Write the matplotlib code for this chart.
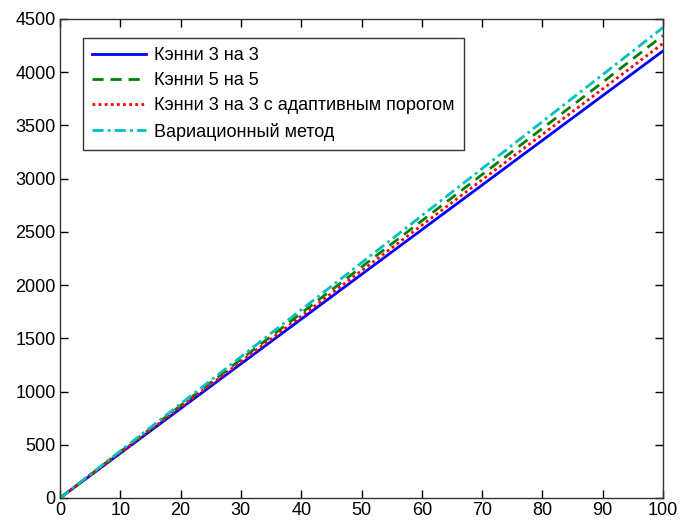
import matplotlib
matplotlib.use("Agg")
import matplotlib.pyplot as plt

# ── data ──────────────────────────────────────────────────────────────────────
x_vals = [0, 10, 20, 30, 40, 50, 60, 70, 80, 90, 100]
canny3 = [0, 420, 840, 1260, 1680, 2100, 2520, 2940, 3360, 3780, 4200]
canny5 = [0, 434, 868, 1302, 1736, 2170, 2604, 3038, 3472, 3906, 4345]
canny3_adapt = [0, 427, 854, 1281, 1708, 2135, 2562, 2989, 3416, 3843, 4270]
variational = [0, 442, 884, 1326, 1768, 2210, 2652, 3094, 3536, 3978, 4420]

labels = ["Кэнни 3 на 3", "Кэнни 5 на 5",
          "Кэнни 3 на 3 с адаптивным порогом", "Вариационный метод"]
x_ticks = list(range(0, 101, 10))
y_ticks = list(range(0, 4501, 500))

plt.rcParams["font.family"] = ["Liberation Sans", "DejaVu Sans"]

fig = plt.figure(figsize=(6.8, 5.24), dpi=100)
ax = fig.add_axes([60 / 680, 26 / 524, 603 / 680, 479 / 524])

ax.plot(x_vals, canny3, color="#0000FF", lw=2.0, ls="-", label=labels[0])
ax.plot(x_vals, canny5, color="#008000", lw=2.0, ls=(0, (4, 2.5)), label=labels[1])
ax.plot(x_vals, canny3_adapt, color="#FF0000", lw=2.0, ls=(0, (1, 1.2)), label=labels[2])
ax.plot(x_vals, variational, color="#00BFBF", lw=2.0, ls=(0, (4, 1.5, 1, 1.5)), label=labels[3])

ax.set_xlim(0, 100)
ax.set_ylim(0, 4500)
ax.set_xticks(x_ticks)
ax.set_yticks(y_ticks)
ax.tick_params(direction="in", top=True, right=True, length=6, width=1,
               labelsize=13, pad=3)
for s in ax.spines.values():
    s.set_linewidth(1.0)
    s.set_color("#333333")

leg = ax.legend(loc="upper left", bbox_to_anchor=(0.038, 0.960), fontsize=13,
                frameon=True, fancybox=False, edgecolor="black",
                borderaxespad=0, handlelength=3.0, borderpad=0.5,
                labelspacing=0.45, handletextpad=0.45)
leg.get_frame().set_linewidth(1.0)

fig.savefig("out.png", dpi=100, facecolor="white")
plt.close()
